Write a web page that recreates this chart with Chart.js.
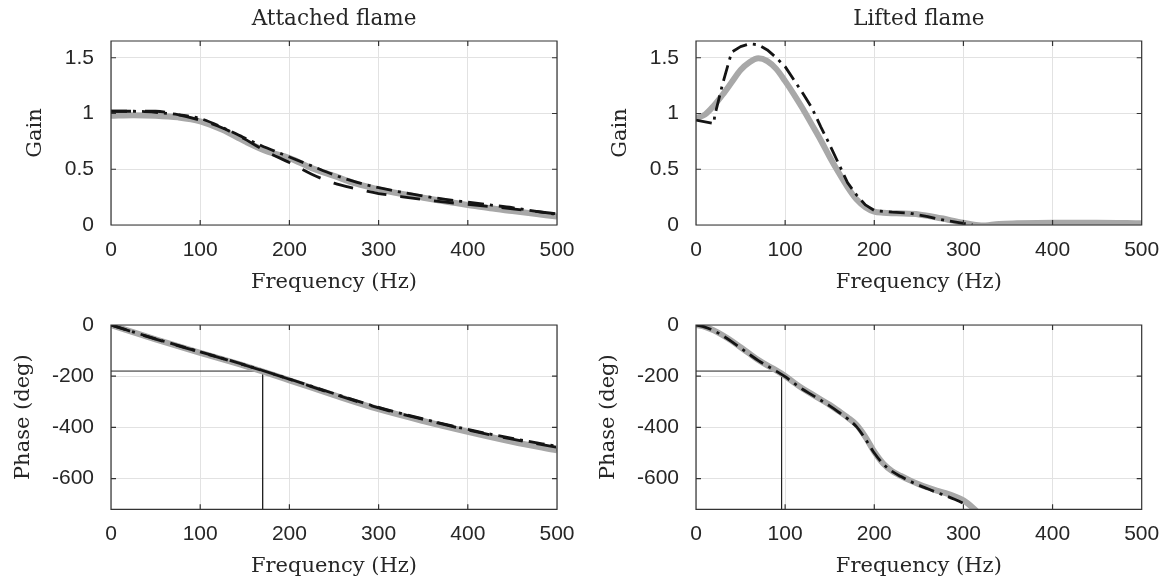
<!DOCTYPE html>
<html><head><meta charset="utf-8">
<script src="https://cdn.jsdelivr.net/npm/chart.js@4/dist/chart.umd.min.js"></script>
<style>
html,body{margin:0;padding:0;background:#fff;overflow:hidden;}
#wrap{position:relative;width:1165px;height:583px;overflow:hidden;}
#wrap canvas{position:absolute;left:0;top:0;}
</style></head><body>
<div id="wrap">
<canvas id="c0" width="1250" height="583"></canvas>
<canvas id="c1" width="1250" height="583"></canvas>
<canvas id="c2" width="1250" height="583"></canvas>
<canvas id="c3" width="1250" height="583"></canvas>
</div>
<script>
// ---------- data ----------
const xTicks = [0, 100, 200, 300, 400, 500];
const gainTicks = [0, 0.5, 1, 1.5];
const phaseTicks = [-600, -400, -200, 0];
const titles = ['Attached flame', 'Lifted flame'];
const xLabel = 'Frequency (Hz)';
const gainLabel = 'Gain';
const phaseLabel = 'Phase (deg)';

// Attached flame - gain
const attFreq = [0,25,50,75,100,125,150,175,200,225,250,275,300,325,350,375,400,425,450,475,500];
const attGainModel   = [0.98,0.985,0.98,0.965,0.93,0.853,0.75,0.66,0.60,0.51,0.44,0.37,0.32,0.28,0.245,0.21,0.18,0.15,0.125,0.10,0.075];
const attGainDashed  = [1.02,1.02,1.02,0.99,0.94,0.87,0.77,0.655,0.56,0.455,0.375,0.325,0.282,0.255,0.228,0.205,0.185,0.165,0.145,0.122,0.10];
const attGainDashDot = [1.02,1.02,1.01,0.99,0.955,0.875,0.78,0.69,0.61,0.53,0.45,0.385,0.335,0.295,0.26,0.23,0.205,0.18,0.155,0.125,0.095];

// Attached flame - phase
const attPhaseFreq    = [0,50,100,150,200,250,300,350,400,450,500];
const attPhaseModel   = [0,-56,-109,-160,-216,-274,-329,-375,-417,-456,-490];
const attPhaseDashed  = [0,-55,-106,-157,-212,-270,-324,-369,-410,-446,-478];
const attPhaseDashDot = [0,-54,-105,-156,-211,-268,-322,-367,-408,-443,-474];
const attCrossFreq = 170;

// Lifted flame - gain
const liftFreq = [0,10,20,30,40,50,60,70,80,90,100,110,120,130,140,150,160,170,180,190,200,210,225,250,275,300,320,340,360,400,450,500];
const liftGainModel = [0.96,0.99,1.07,1.17,1.28,1.39,1.46,1.495,1.47,1.40,1.29,1.17,1.04,0.90,0.76,0.61,0.47,0.34,0.23,0.16,0.12,0.11,0.105,0.095,0.06,0.02,-0.005,0.01,0.015,0.02,0.02,0.015];
const liftExpFreq = [0,20,21,30,40,50,60,70,80,90,100,110,120,130,140,150,160,170,180,190,200,220,240,260,280,300,310];
const liftGainDashDot = [0.94,0.91,0.98,1.27,1.55,1.60,1.625,1.616,1.57,1.50,1.42,1.30,1.18,1.05,0.88,0.72,0.55,0.38,0.27,0.18,0.13,0.115,0.105,0.075,0.04,0.015,0.005];

// Lifted flame - phase
const liftPhaseFreq  = [0,10,20,30,40,50,60,70,80,90,100,110,120,130,140,150,160,170,180,190,200,210,220,230,240,250,260,270,280,290,300,310,320];
const liftPhaseModel = [0,-7,-21,-40,-62,-87,-112,-137,-158,-177,-199,-225,-249,-270,-291,-312,-336,-361,-390,-437,-495,-541,-571,-590,-607,-622,-635,-647,-657,-669,-685,-712,-745];
const liftPhaseExpFreq = [0,10,20,30,40,50,60,70,80,90,100,110,120,130,140,150,160,170,180,190,200,210,220,230,240,250,260,270,280,290,300,305];
const liftPhaseDashDot = [0,-8,-22,-42,-65,-90,-115,-139,-160,-180,-202,-228,-252,-273,-294,-316,-340,-366,-397,-445,-500,-543,-572,-592,-610,-626,-640,-654,-667,-681,-697,-706];
const liftCrossFreq = 96;
const crossPhase = -180;

// ---------- styling ----------
const TXT = '#262626', GRID = '#e2e2e2', AXIS = '#333333';
const GRAY = '#a8a8a8', BLACK = '#141414';
const SANS = '"Liberation Sans", Arial, sans-serif';
const SERIF = '"DejaVu Serif", serif';
const TICKLEN = 5;

const zip = (xs, ys) => xs.map((x, i) => ({x, y: ys[i]}));

const boxPlugin = {
  id: 'axesBox',
  afterDatasetsDraw(chart) {
    const {ctx, chartArea: a, scales: {x, y}} = chart;
    ctx.save();
    ctx.strokeStyle = AXIS; ctx.lineWidth = 1.2;
    ctx.beginPath();
    x.ticks.forEach(t => {
      const p = x.getPixelForValue(t.value);
      ctx.moveTo(p, a.bottom); ctx.lineTo(p, a.bottom - TICKLEN);
      ctx.moveTo(p, a.top); ctx.lineTo(p, a.top + TICKLEN);
    });
    y.ticks.forEach(t => {
      const p = y.getPixelForValue(t.value);
      ctx.moveTo(a.left, p); ctx.lineTo(a.left + TICKLEN, p);
      ctx.moveTo(a.right, p); ctx.lineTo(a.right - TICKLEN, p);
    });
    ctx.rect(a.left, a.top, a.right - a.left, a.bottom - a.top);
    ctx.stroke();
    ctx.restore();
  }
};

function lineDs(data, color, width, dash, smooth) {
  return {data, borderColor: color, borderWidth: width, borderDash: dash, pointRadius: 0,
    fill: false, tension: smooth ? 0.4 : 0, cubicInterpolationMode: smooth ? 'monotone' : 'default',
    borderCapStyle: 'butt', borderJoinStyle: 'round'};
}

function panel(id, o) {
  const datasets = [lineDs(o.dashDot, BLACK, 2.8, [16, 6, 3, 6], o.smoothExp)];
  if (o.dashed) datasets.push(lineDs(o.dashed, BLACK, 2.8, [20, 14], o.smoothExp));
  datasets.push(lineDs(o.model, GRAY, 6, [], true));
  if (o.cross !== undefined) {
    datasets.push({data: [{x: 0, y: crossPhase}, {x: o.cross, y: crossPhase}, {x: o.cross, y: o.ymin}],
      borderColor: '#222', borderWidth: 1, pointRadius: 0, tension: 0, fill: false});
  }
  const W = 1250, H = 583;
  new Chart(document.getElementById(id).getContext('2d'), {
    type: 'line',
    data: {datasets},
    options: {
      responsive: false, animation: false, devicePixelRatio: 1, events: [],
      layout: {padding: {left: o.padLeft, top: o.padTop, right: W - o.r, bottom: H - o.b - o.xH}},
      plugins: {
        legend: {display: false}, tooltip: {enabled: false},
        title: o.title ? {display: true, text: o.title, fullSize: false, color: TXT,
          font: {family: SERIF, size: 21.5, weight: 'normal', lineHeight: 1.2}, padding: {top: 6.1, bottom: 9.1}} : {display: false}
      },
      scales: {
        x: {
          type: 'linear', min: 0, max: 500,
          afterBuildTicks: s => { s.ticks = xTicks.map(v => ({value: v})); },
          afterFit: s => { s.height = o.xH; },
          grid: {color: GRID, lineWidth: 1, drawTicks: false},
          border: {display: false},
          ticks: {color: TXT, font: {family: SANS, size: 21}, padding: 12.4, maxRotation: 0, autoSkip: false, callback: v => String(v)},
          title: {display: true, text: xLabel, color: TXT, font: {family: SERIF, size: 21}, padding: {top: 0, bottom: o.xTitlePad}}
        },
        y: {
          type: 'linear', min: o.ymin, max: o.ymax,
          afterBuildTicks: s => { s.ticks = o.yTicks.map(v => ({value: v})); },
          afterFit: s => { s.width = o.l - o.padLeft; },
          grid: {color: GRID, lineWidth: 1, drawTicks: false},
          border: {display: false},
          ticks: {color: TXT, font: {family: SANS, size: 21}, padding: 17, autoSkip: false, callback: v => String(v)},
          title: {display: true, text: o.yLabel, color: TXT, font: {family: SERIF, size: 21}, padding: {top: o.yTitlePad, bottom: 0}}
        }
      }
    },
    plugins: [boxPlugin]
  });
}

// top-left
panel('c0', {title: titles[0], padLeft: 0, padTop: 0, l: 111, r: 557, b: 225, xH: 75, xTitlePad: 4.8,
  ymin: 0, ymax: 1.65, yTicks: gainTicks, yLabel: gainLabel, yTitlePad: 23.4,
  model: zip(attFreq, attGainModel), dashed: zip(attFreq, attGainDashed), dashDot: zip(attFreq, attGainDashDot), smoothExp: true});
// top-right
panel('c1', {title: titles[1], padLeft: 585, padTop: 0, l: 696, r: 1141.7, b: 225, xH: 75, xTitlePad: 4.8,
  ymin: 0, ymax: 1.65, yTicks: gainTicks, yLabel: gainLabel, yTitlePad: 23.4,
  model: zip(liftFreq, liftGainModel), dashDot: zip(liftExpFreq, liftGainDashDot), smoothExp: false});
// bottom-left
panel('c2', {padLeft: 0, padTop: 325, l: 111, r: 557, b: 509.3, xH: 72, xTitlePad: 1.7,
  ymin: -720, ymax: 0, yTicks: phaseTicks, yLabel: phaseLabel, yTitlePad: 11.4, cross: attCrossFreq,
  model: zip(attPhaseFreq, attPhaseModel), dashed: zip(attPhaseFreq, attPhaseDashed), dashDot: zip(attPhaseFreq, attPhaseDashDot), smoothExp: true});
// bottom-right
panel('c3', {padLeft: 585, padTop: 325, l: 696, r: 1141.7, b: 509.3, xH: 72, xTitlePad: 1.7,
  ymin: -720, ymax: 0, yTicks: phaseTicks, yLabel: phaseLabel, yTitlePad: 11.4, cross: liftCrossFreq,
  model: zip(liftPhaseFreq, liftPhaseModel), dashDot: zip(liftPhaseExpFreq, liftPhaseDashDot), smoothExp: true});
</script>
</body></html>
